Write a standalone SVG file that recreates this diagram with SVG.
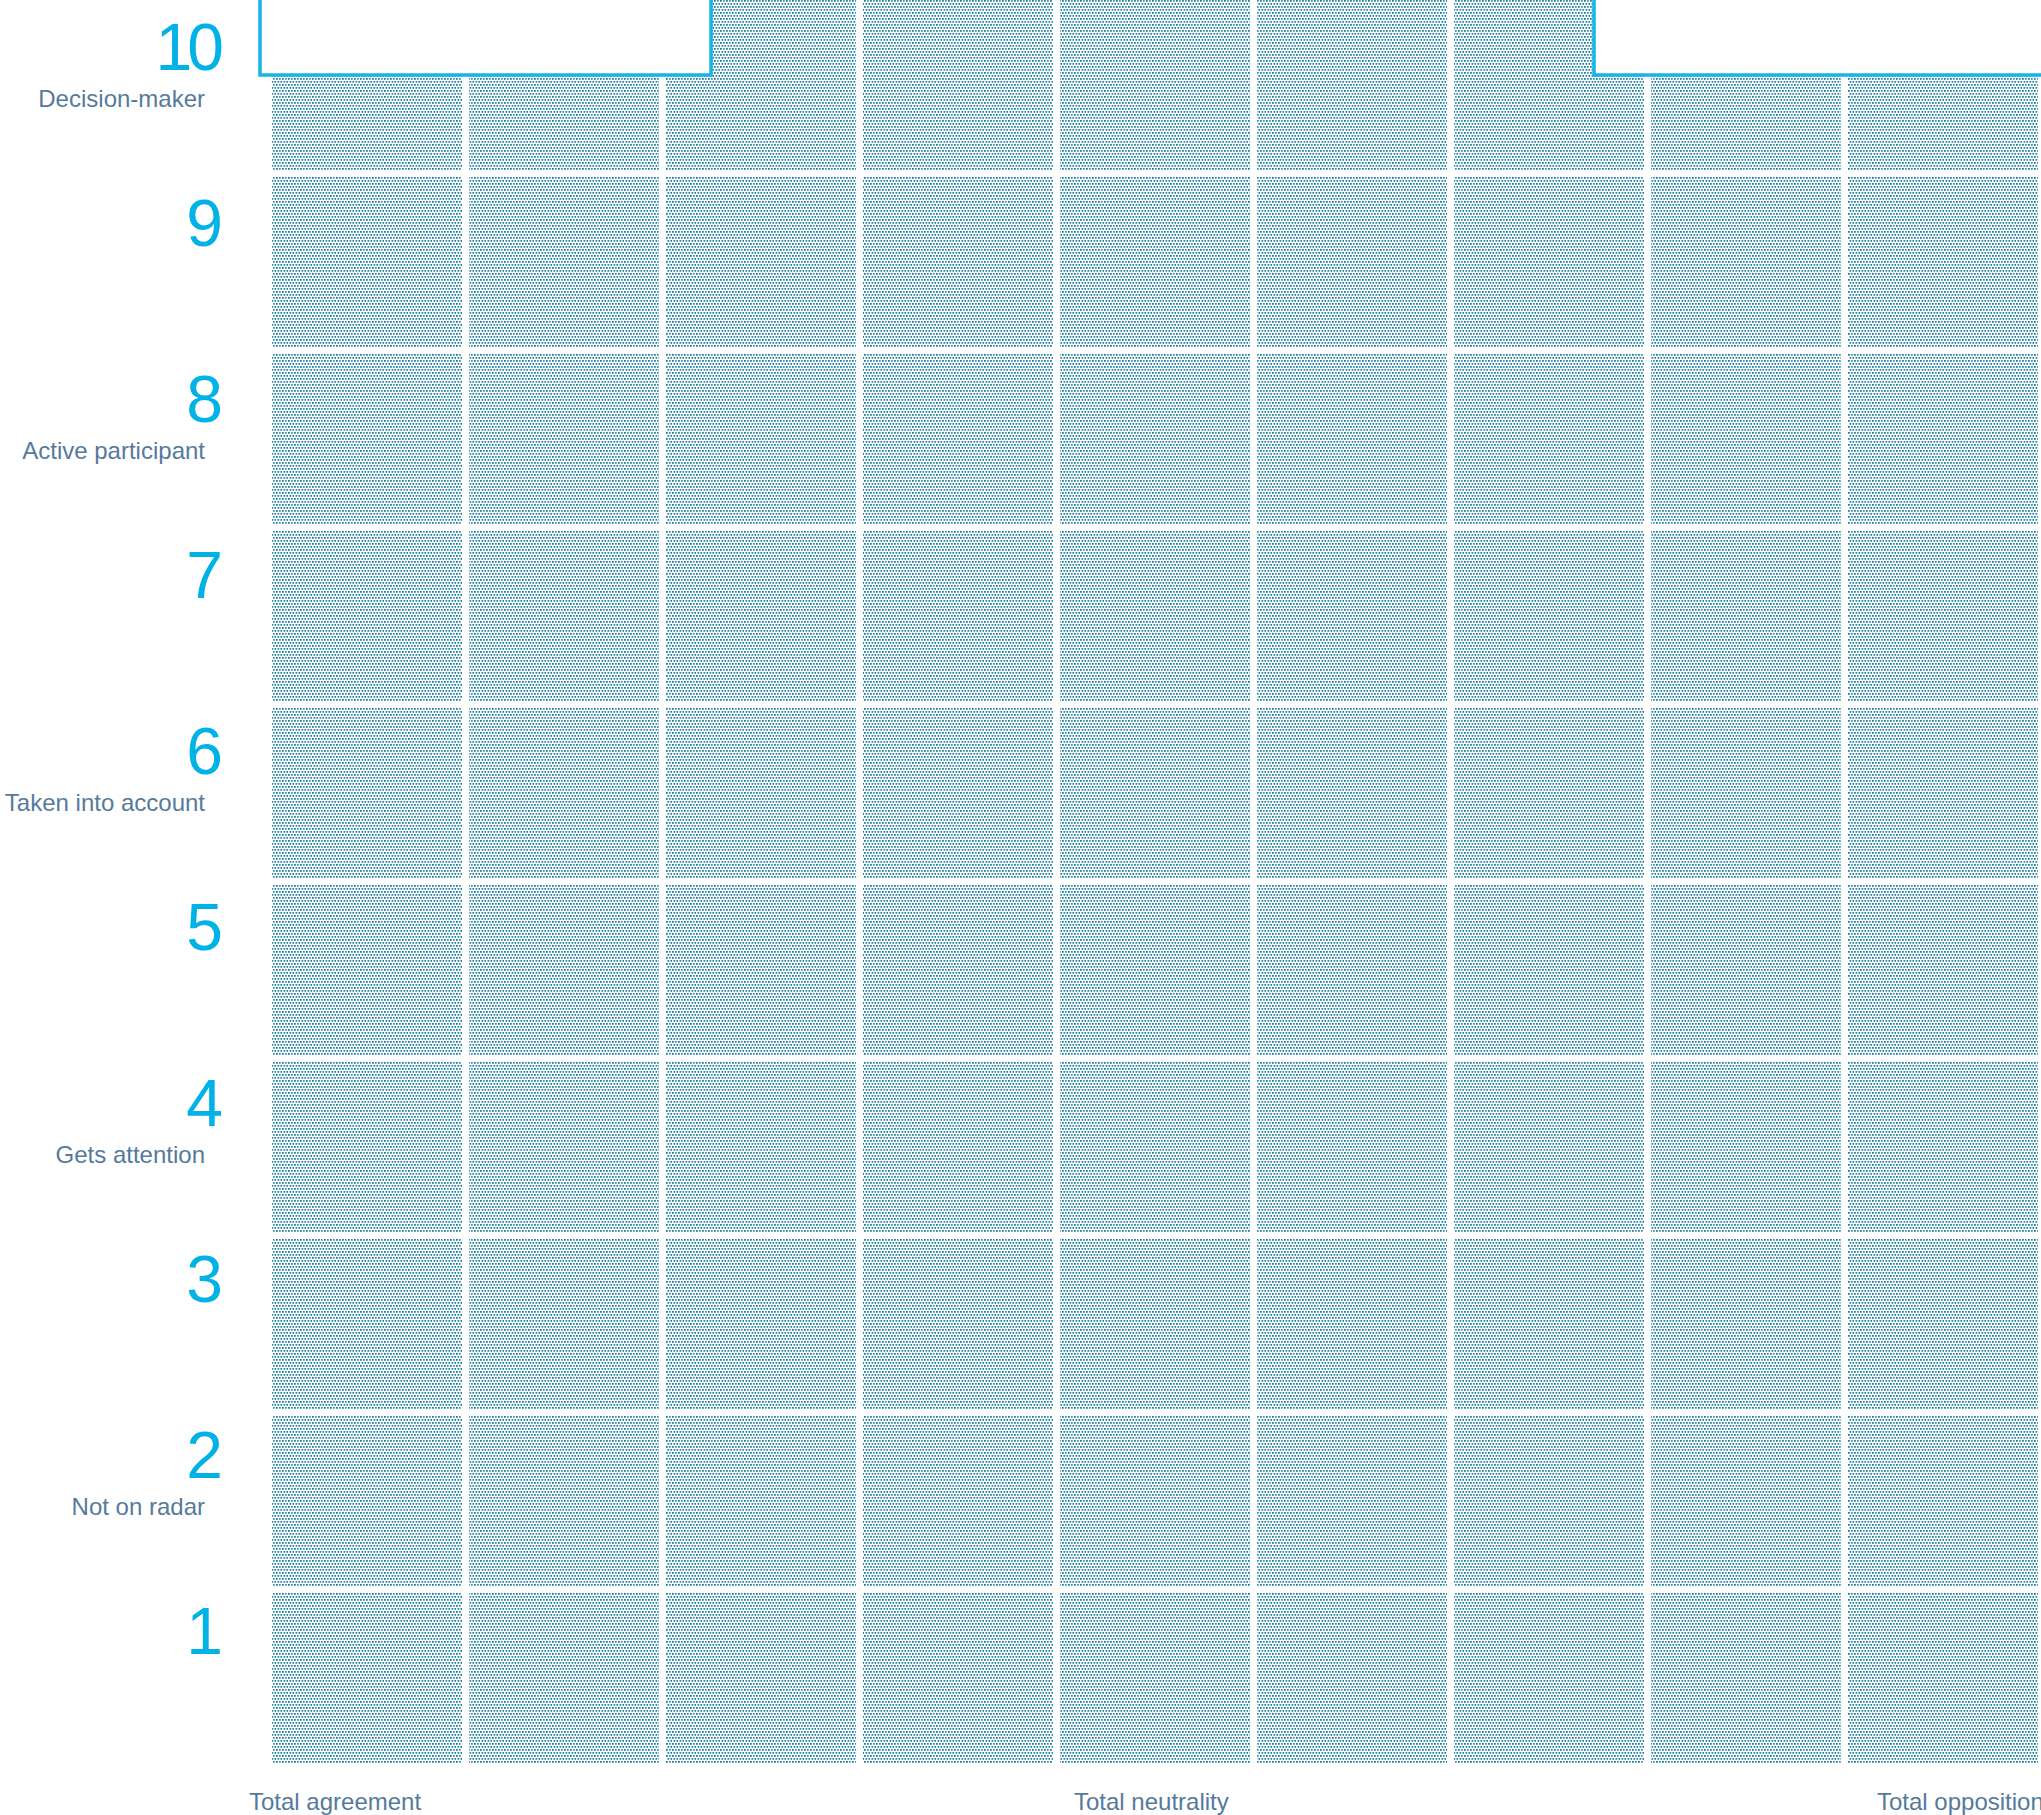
<svg xmlns="http://www.w3.org/2000/svg" width="2041" height="1815" viewBox="0 0 2041 1815">
<defs>
<pattern id="dots" patternUnits="userSpaceOnUse" width="6" height="6">
<rect x="0" y="0" width="1.75" height="1.75" fill="#12799a"/>
<rect x="3" y="0" width="1.75" height="1.75" fill="#3592b0"/>
<rect x="1.5" y="3" width="1.75" height="1.75" fill="#2487a6"/>
<rect x="4.5" y="3" width="1.75" height="1.75" fill="#12799a"/>
</pattern>
</defs>
<style>
.num{font-family:"Liberation Sans",Arial,sans-serif;font-size:66px;fill:#00b2e6;text-anchor:end}
.lab{font-family:"Liberation Sans",Arial,sans-serif;font-size:24px;fill:#557a9c;text-anchor:end}
.axis{font-family:"Liberation Sans",Arial,sans-serif;font-size:24px;fill:#557a9c}
.cell{fill:url(#dots)}
.box{fill:#ffffff;stroke:#17b4e8;stroke-width:3.5}
</style>
<rect width="2041" height="1815" fill="#ffffff"/>
<g id="grid">
<g id="row10">
<rect class="cell" x="272" y="0" width="190" height="170"/><rect class="cell" x="469" y="0" width="190" height="170"/><rect class="cell" x="666" y="0" width="190" height="170"/><rect class="cell" x="863" y="0" width="190" height="170"/><rect class="cell" x="1060" y="0" width="190" height="170"/><rect class="cell" x="1257" y="0" width="190" height="170"/><rect class="cell" x="1454" y="0" width="190" height="170"/><rect class="cell" x="1651" y="0" width="190" height="170"/><rect class="cell" x="1848" y="0" width="190" height="170"/>
</g>
<use href="#row10" y="177"/>
<use href="#row10" y="354"/>
<use href="#row10" y="531"/>
<use href="#row10" y="708"/>
<use href="#row10" y="885"/>
<use href="#row10" y="1062"/>
<use href="#row10" y="1239"/>
<use href="#row10" y="1416"/>
<use href="#row10" y="1593"/>
</g>
<g id="box-left"><rect class="box" x="260" y="-5" width="451" height="80"/></g>
<g id="box-right"><rect class="box" x="1594" y="-5" width="460" height="80"/></g>
<g id="connectors"></g>
<g id="scale-10"><text class="num" x="219" y="70" letter-spacing="-5">10</text><text class="lab" x="205" y="107">Decision-maker</text></g>
<g id="scale-9"><text class="num" x="223" y="246">9</text></g>
<g id="scale-8"><text class="num" x="223" y="422">8</text><text class="lab" x="205" y="459">Active participant</text></g>
<g id="scale-7"><text class="num" x="223" y="598">7</text></g>
<g id="scale-6"><text class="num" x="223" y="774">6</text><text class="lab" x="205" y="811">Taken into account</text></g>
<g id="scale-5"><text class="num" x="223" y="950">5</text></g>
<g id="scale-4"><text class="num" x="223" y="1126">4</text><text class="lab" x="205" y="1163">Gets attention</text></g>
<g id="scale-3"><text class="num" x="223" y="1302">3</text></g>
<g id="scale-2"><text class="num" x="223" y="1478">2</text><text class="lab" x="205" y="1515">Not on radar</text></g>
<g id="scale-1"><text class="num" x="223" y="1654">1</text></g>
<g id="axis">
<text class="axis" x="249" y="1810">Total agreement</text>
<text class="axis" x="1074" y="1810">Total neutrality</text>
<text class="axis" x="1877" y="1810">Total opposition</text>
</g>
</svg>
